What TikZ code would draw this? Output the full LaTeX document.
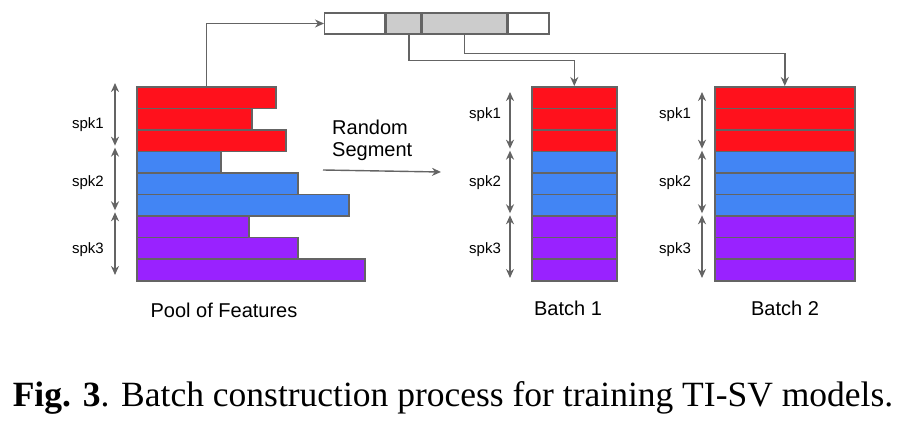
\documentclass[tikz,border=0pt]{standalone}
\usepackage{fontspec}
\setmainfont{Liberation Serif}
\setsansfont{Liberation Sans}
\usetikzlibrary{positioning,arrows.meta}

\definecolor{spkred}{RGB}{255,17,28}
\definecolor{spkblue}{RGB}{66,133,244}
\definecolor{spkpurple}{RGB}{153,34,255}
\definecolor{linegray}{RGB}{100,100,100}
\definecolor{cellgray}{RGB}{204,204,204}

\begin{document}
\begin{tikzpicture}[x=1pt,y=-1pt,>={Stealth[length=9pt,width=8pt]},
    bar/.style={draw=linegray,line width=1.6pt,inner sep=0pt,minimum height=\rowh pt,anchor=north west},
    cell/.style={draw=linegray,line width=1.4pt,inner sep=0pt,minimum height=21pt,anchor=west},
    conn/.style={draw=linegray,line width=1.4pt},
    spkarrow/.style={<->,draw=linegray,line width=1.5pt},
    spklabel/.style={font=\sffamily\fontsize{15}{18}\selectfont},
    title/.style={font=\sffamily\fontsize{20}{24}\selectfont}]
    % Define parameters
    \def\rowh{21.55}
    \def\top{86}
    \useasboundingbox (0,0) rectangle (906,426);

% Pool of features
\foreach \w/\c [count=\i] in {139/spkred,115/spkred,149/spkred,84/spkblue,161/spkblue,212/spkblue,112/spkpurple,161/spkpurple,228/spkpurple}
    \node[bar,fill=\c,minimum width=\w pt] (p\i) at (136,{\top+(\i-1)*\rowh}) {};
\foreach \k/\ly in {1/125,2/183,3/250} {
    \draw[spkarrow] (115,{\top-3+(\k-1)*3*\rowh}) -- (115,{\top-1+\k*3*\rowh-4});
    \node[spklabel] (pl\k) at (88,\ly) {spk\k};
}
\node[title] (pool) at (224,310) {Pool of Features};

% Batch 1 and Batch 2
\foreach \c [count=\i] in {spkred,spkred,spkred,spkblue,spkblue,spkblue,spkpurple,spkpurple,spkpurple} {
    \node[bar,fill=\c,minimum width=85pt] (ba\i) at (531,{\top+(\i-1)*\rowh}) {};
    \node[bar,fill=\c,minimum width=140pt] (bb\i) at (714,{\top+(\i-1)*\rowh}) {};
}
\foreach \k/\ly in {1/115,2/183,3/250} {
    \draw[spkarrow] (510,{\top+(\k-1)*3*\rowh+(\k==1)*6}) -- (510,{\top-2+\k*3*\rowh});
    \node[spklabel] (al\k) at (485,\ly) {spk\k};
    \draw[spkarrow] (702,{\top+(\k-1)*3*\rowh+(\k==1)*6}) -- (702,{\top-2+\k*3*\rowh});
    \node[spklabel] (bl\k) at (675,\ly) {spk\k};
}
\node[title] (bt1) at (568,308) {Batch 1};
\node[title] (bt2) at (785,308) {Batch 2};

% Segment strip on top
\node[cell,minimum width=60pt] (t1) at (324,23.5) {};
\node[cell,fill=cellgray,minimum width=35pt] (t2) at (t1.east) {};
\node[cell,fill=cellgray,minimum width=84pt] (t3) at (t2.east) {};
\node[cell,minimum width=41pt] (t4) at (t3.east) {};

% Connectors
\draw[conn,->] (p1.north) |- (t1.west);
\draw[conn,->] ([xshift=5.5pt]t2.south) -- ++(0,26) -| (ba1.north);
\draw[conn,->] (t3.south) -- ++(0,19) -| (bb1.north);

% Random segment
\node[title,align=left,anchor=north west,inner sep=0pt] (rs) at (332,120) {Random\\[-2pt]Segment};
\coordinate (rsa) at (323,170);
\coordinate (rsb) at (441,172);
\draw[conn,->] (rsa) -- (rsb);

% Caption
\node[font=\fontsize{35.5}{40}\selectfont] (cap) at (453,398) {\textbf{Fig. 3}. Batch construction process for training TI-SV models.};
\end{tikzpicture}
\end{document}
